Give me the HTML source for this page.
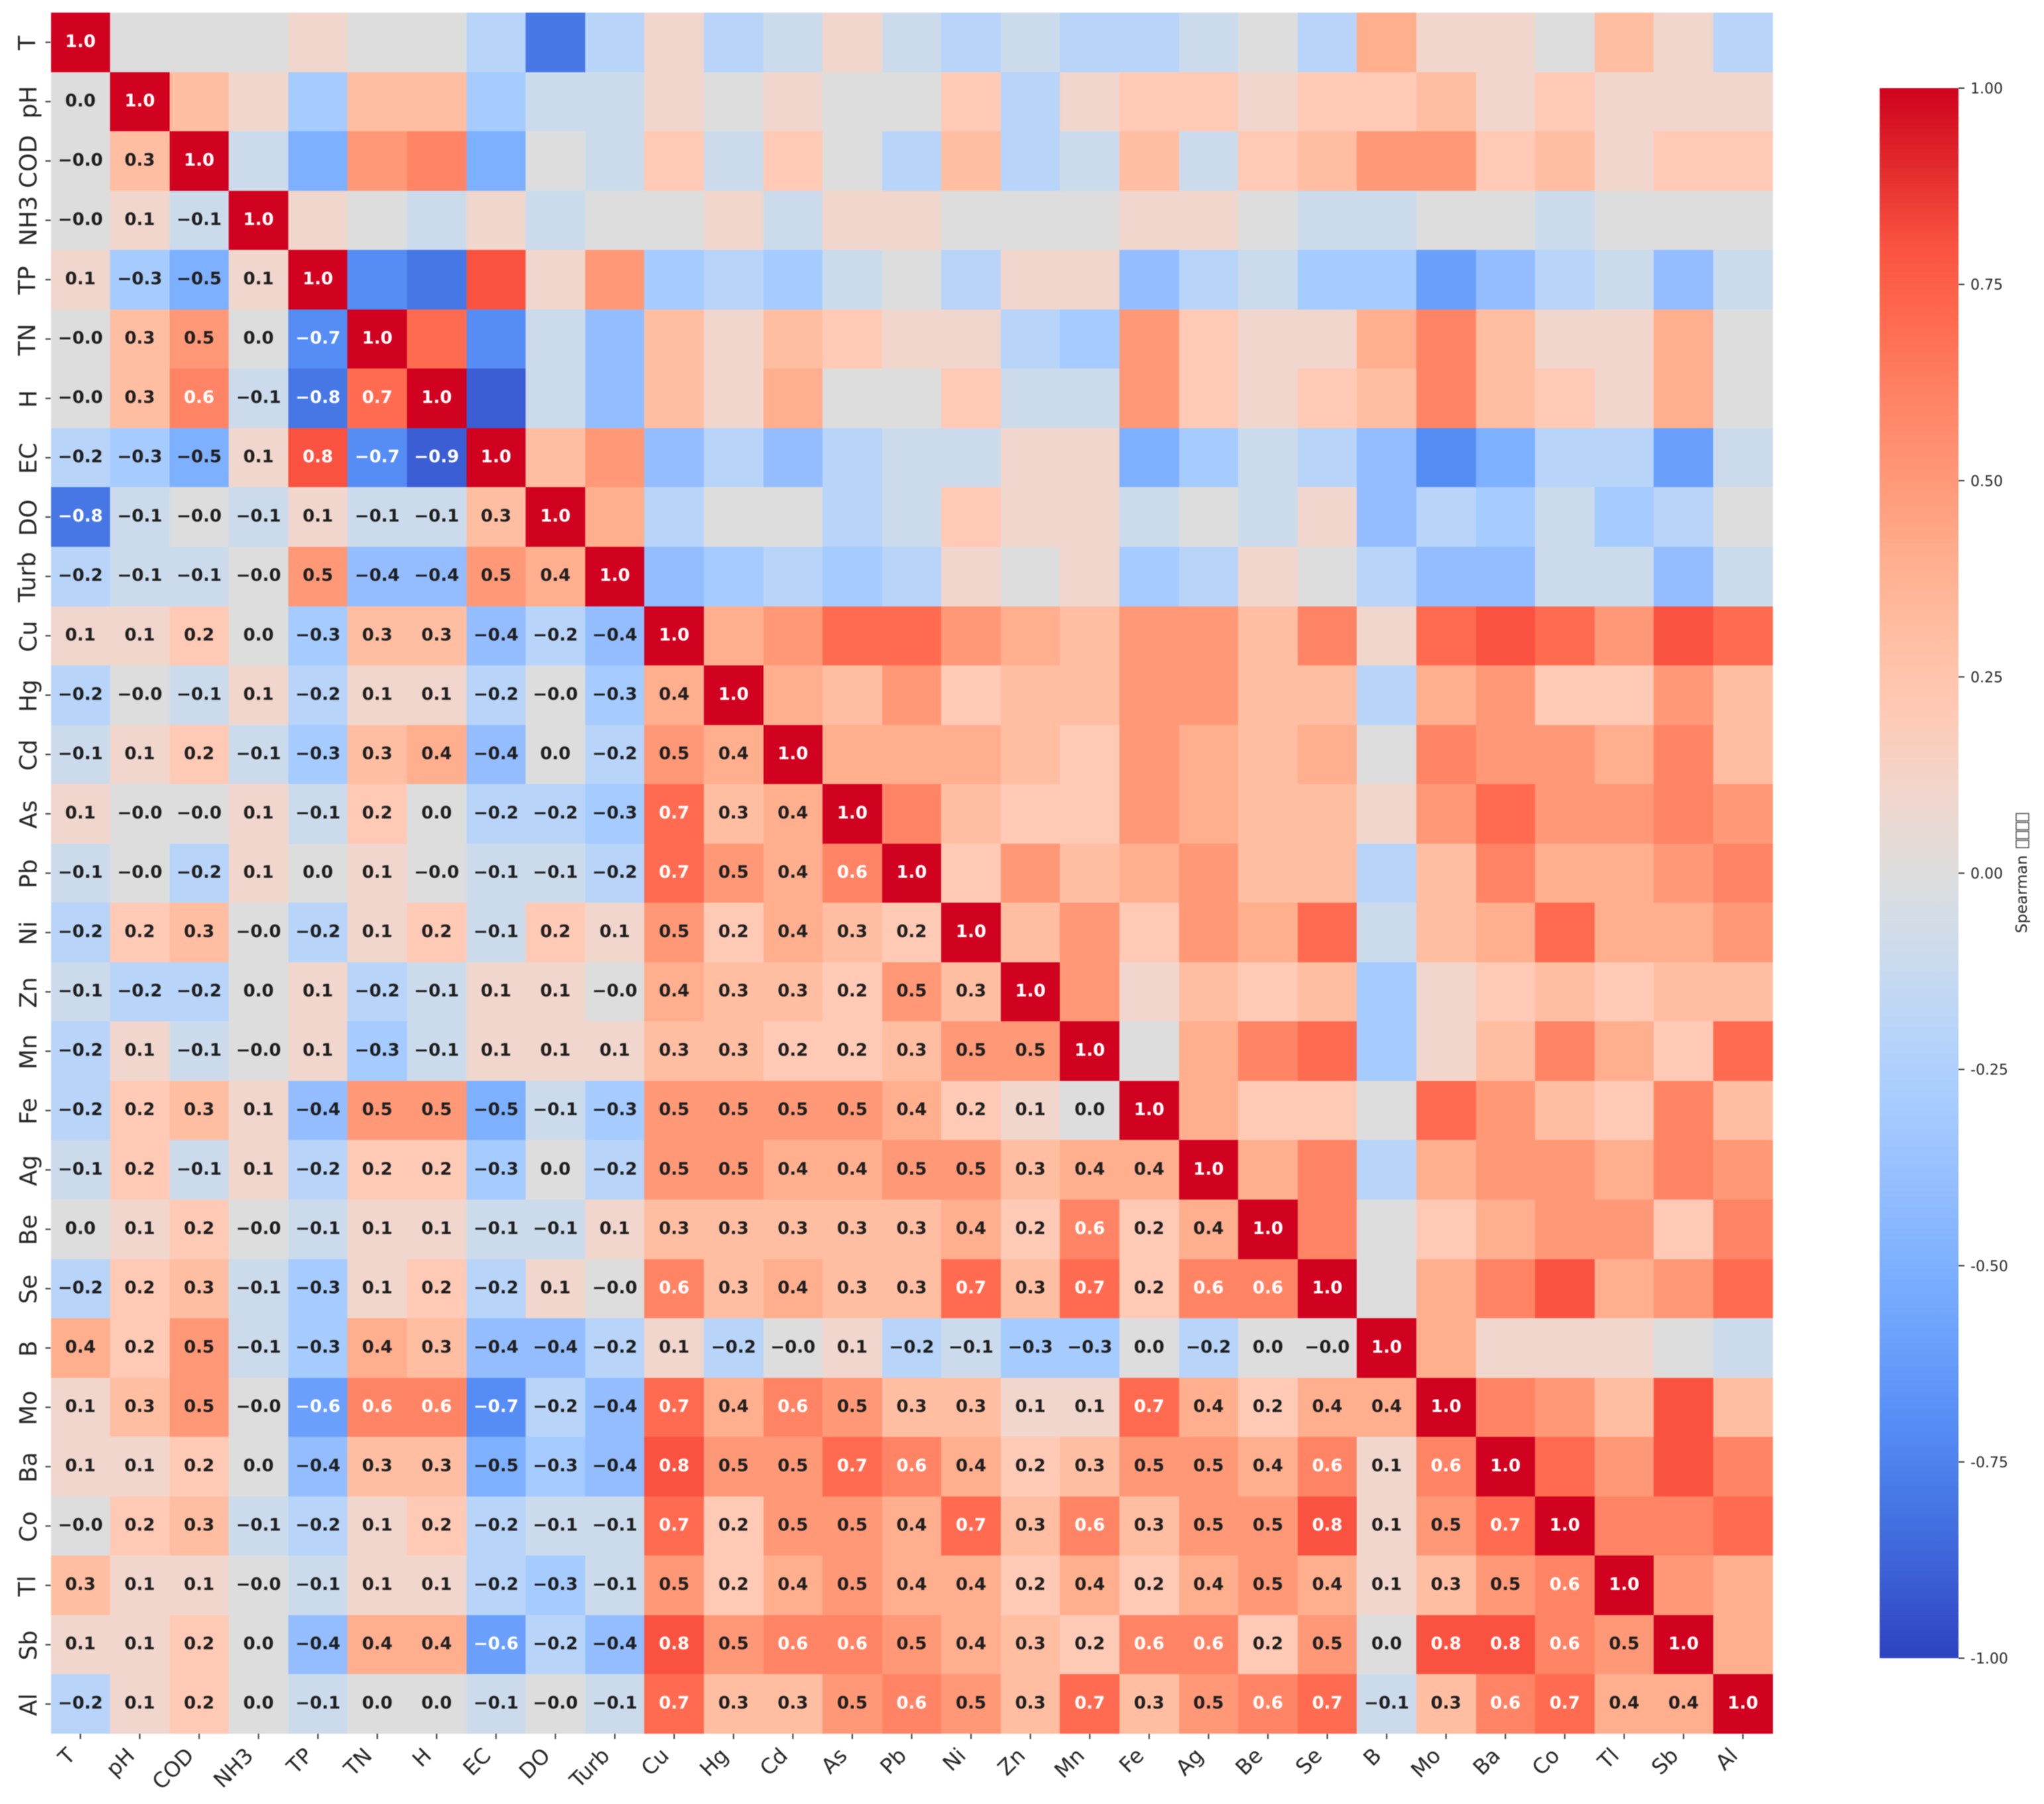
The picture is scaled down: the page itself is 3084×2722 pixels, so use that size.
<!DOCTYPE html>
<html lang="en">
<head>
<meta charset="utf-8">
<title>Spearman correlation heatmap</title>
<style>
html,body{margin:0;padding:0;background:#fff;}
svg{display:block;}
text{font-family:"DejaVu Sans","Liberation Sans",sans-serif;}
.cell-value{font-size:26px;font-weight:700;text-anchor:middle;}
.y-label{font-size:35.5px;fill:#262626;}
.x-label{font-size:32px;fill:#262626;}
.cbar-label{font-size:22px;fill:#262626;}
.soft{filter:blur(0.7px);}
</style>
</head>
<body>
<svg id="chart" xmlns="http://www.w3.org/2000/svg" width="3084" height="2722" viewBox="0 0 3084 2722">
  <rect x="0" y="0" width="3084" height="2722" fill="#ffffff"/>
  <g id="cells" class="soft" shape-rendering="crispEdges"></g>
  <g id="annotations" class="soft"></g>
  <g id="yaxis" class="soft"></g>
  <g id="xaxis" class="soft"></g>
  <g id="colorbar" class="soft"></g>
  <g id="colorbar-axis" class="soft"></g>
  <g class="soft">
    <text class="cbar-label" transform="translate(3058,1408) rotate(-90)" style="font-size:23px">Spearman</text>
    <rect x="3042" y="1268" width="19" height="11" fill="none" stroke="#555" stroke-width="1.6"/>
    <rect x="3042" y="1254.5" width="19" height="11" fill="none" stroke="#555" stroke-width="1.6"/>
    <rect x="3042" y="1241" width="19" height="11" fill="none" stroke="#555" stroke-width="1.6"/>
    <rect x="3042" y="1227.5" width="19" height="11" fill="none" stroke="#555" stroke-width="1.6"/>
  </g>
</svg>
<script>
const variables = ["T","pH","COD","NH3","TP","TN","H","EC","DO","Turb","Cu","Hg","Cd","As","Pb","Ni","Zn","Mn","Fe","Ag","Be","Se","B","Mo","Ba","Co","Tl","Sb","Al"];

const lowerTriangle = [
[1.0],
[0.0,1.0],
[-0.0,0.3,1.0],
[-0.0,0.1,-0.1,1.0],
[0.1,-0.3,-0.5,0.1,1.0],
[-0.0,0.3,0.5,0.0,-0.7,1.0],
[-0.0,0.3,0.6,-0.1,-0.8,0.7,1.0],
[-0.2,-0.3,-0.5,0.1,0.8,-0.7,-0.9,1.0],
[-0.8,-0.1,-0.0,-0.1,0.1,-0.1,-0.1,0.3,1.0],
[-0.2,-0.1,-0.1,-0.0,0.5,-0.4,-0.4,0.5,0.4,1.0],
[0.1,0.1,0.2,0.0,-0.3,0.3,0.3,-0.4,-0.2,-0.4,1.0],
[-0.2,-0.0,-0.1,0.1,-0.2,0.1,0.1,-0.2,-0.0,-0.3,0.4,1.0],
[-0.1,0.1,0.2,-0.1,-0.3,0.3,0.4,-0.4,0.0,-0.2,0.5,0.4,1.0],
[0.1,-0.0,-0.0,0.1,-0.1,0.2,0.0,-0.2,-0.2,-0.3,0.7,0.3,0.4,1.0],
[-0.1,-0.0,-0.2,0.1,0.0,0.1,-0.0,-0.1,-0.1,-0.2,0.7,0.5,0.4,0.6,1.0],
[-0.2,0.2,0.3,-0.0,-0.2,0.1,0.2,-0.1,0.2,0.1,0.5,0.2,0.4,0.3,0.2,1.0],
[-0.1,-0.2,-0.2,0.0,0.1,-0.2,-0.1,0.1,0.1,-0.0,0.4,0.3,0.3,0.2,0.5,0.3,1.0],
[-0.2,0.1,-0.1,-0.0,0.1,-0.3,-0.1,0.1,0.1,0.1,0.3,0.3,0.2,0.2,0.3,0.5,0.5,1.0],
[-0.2,0.2,0.3,0.1,-0.4,0.5,0.5,-0.5,-0.1,-0.3,0.5,0.5,0.5,0.5,0.4,0.2,0.1,0.0,1.0],
[-0.1,0.2,-0.1,0.1,-0.2,0.2,0.2,-0.3,0.0,-0.2,0.5,0.5,0.4,0.4,0.5,0.5,0.3,0.4,0.4,1.0],
[0.0,0.1,0.2,-0.0,-0.1,0.1,0.1,-0.1,-0.1,0.1,0.3,0.3,0.3,0.3,0.3,0.4,0.2,0.6,0.2,0.4,1.0],
[-0.2,0.2,0.3,-0.1,-0.3,0.1,0.2,-0.2,0.1,-0.0,0.6,0.3,0.4,0.3,0.3,0.7,0.3,0.7,0.2,0.6,0.6,1.0],
[0.4,0.2,0.5,-0.1,-0.3,0.4,0.3,-0.4,-0.4,-0.2,0.1,-0.2,-0.0,0.1,-0.2,-0.1,-0.3,-0.3,0.0,-0.2,0.0,-0.0,1.0],
[0.1,0.3,0.5,-0.0,-0.6,0.6,0.6,-0.7,-0.2,-0.4,0.7,0.4,0.6,0.5,0.3,0.3,0.1,0.1,0.7,0.4,0.2,0.4,0.4,1.0],
[0.1,0.1,0.2,0.0,-0.4,0.3,0.3,-0.5,-0.3,-0.4,0.8,0.5,0.5,0.7,0.6,0.4,0.2,0.3,0.5,0.5,0.4,0.6,0.1,0.6,1.0],
[-0.0,0.2,0.3,-0.1,-0.2,0.1,0.2,-0.2,-0.1,-0.1,0.7,0.2,0.5,0.5,0.4,0.7,0.3,0.6,0.3,0.5,0.5,0.8,0.1,0.5,0.7,1.0],
[0.3,0.1,0.1,-0.0,-0.1,0.1,0.1,-0.2,-0.3,-0.1,0.5,0.2,0.4,0.5,0.4,0.4,0.2,0.4,0.2,0.4,0.5,0.4,0.1,0.3,0.5,0.6,1.0],
[0.1,0.1,0.2,0.0,-0.4,0.4,0.4,-0.6,-0.2,-0.4,0.8,0.5,0.6,0.6,0.5,0.4,0.3,0.2,0.6,0.6,0.2,0.5,0.0,0.8,0.8,0.6,0.5,1.0],
[-0.2,0.1,0.2,0.0,-0.1,0.0,0.0,-0.1,-0.0,-0.1,0.7,0.3,0.3,0.5,0.6,0.5,0.3,0.7,0.3,0.5,0.6,0.7,-0.1,0.3,0.6,0.7,0.4,0.4,1.0]
];

const colorbarTicks = [1.0,0.75,0.5,0.25,0.0,-0.25,-0.5,-0.75,-1.0];

const paletteSteps = ["#2c42bf","#3b5ed4","#4677e4","#568df5","#6aa0fb","#7db0ff","#93bdff","#a5cbff","#b8d4f8","#ccdbec","#dddddd","#f0d6cc","#fecab6","#ffbea2","#ffae8e","#ff9877","#ff8466","#ff6b50","#fa5240","#e22a2c","#d0021f"];

const SVGNS = "http://www.w3.org/2000/svg";
const plot = {left:76.5, right:2674.5, top:19, bottom:2616};
const bar = {left:2836, right:2955, top:133, bottom:2502};

function xScale(i){ return plot.left + i * (plot.right - plot.left) / variables.length; }
function yScale(i){ return plot.top + i * (plot.bottom - plot.top) / variables.length; }
function barScale(v){ return bar.top + (1 - v) / 2 * (bar.bottom - bar.top); }

function hexToRgb(h){ return [parseInt(h.slice(1,3),16),parseInt(h.slice(3,5),16),parseInt(h.slice(5,7),16)]; }
function colorScale(v){
  const t = Math.max(0, Math.min(1, (v + 1) / 2)) * (paletteSteps.length - 1);
  const i = Math.min(paletteSteps.length - 2, Math.floor(t));
  const a = hexToRgb(paletteSteps[i]);
  const b = hexToRgb(paletteSteps[i + 1]);
  const f = t - i;
  return "rgb(" + a.map((c, k) => Math.round(c + (b[k] - c) * f)).join(",") + ")";
}
function formatCell(v){
  const neg = v < 0 || Object.is(v, -0);
  return (neg ? "\u2212" : "") + Math.abs(v).toFixed(1);
}
function make(tag, parent, attrs){
  const el = document.createElementNS(SVGNS, tag);
  for (const k in attrs) el.setAttribute(k, attrs[k]);
  parent.appendChild(el);
  return el;
}

const cellsG = document.getElementById("cells");
const annG = document.getElementById("annotations");
const n = variables.length;
for (let r = 0; r < n; r++) {
  for (let c = 0; c < n; c++) {
    const v = r >= c ? lowerTriangle[r][c] : lowerTriangle[c][r];
    const x0 = Math.round(xScale(c)), x1 = Math.round(xScale(c + 1));
    const y0 = Math.round(yScale(r)), y1 = Math.round(yScale(r + 1));
    const cell = make("rect", cellsG, {x:x0, y:y0, width:x1 - x0, height:y1 - y0, fill:colorScale(v)});
    
    
    if (r >= c) {
      const t = make("text", annG, {x:(xScale(c) + xScale(c + 1)) / 2, y:(yScale(r) + yScale(r + 1)) / 2 + 7, class:"cell-value", fill:Math.abs(v) >= 0.55 ? "#ffffff" : "#1f1f1f"});
      
      
      t.textContent = formatCell(v);
    }
  }
}

const yG = document.getElementById("yaxis");
const xG = document.getElementById("xaxis");
variables.forEach((name, i) => {
  const yc = (yScale(i) + yScale(i + 1)) / 2;
  const yTick = make("line", yG, {x1:plot.left - 8, x2:plot.left, y1:yc, y2:yc, stroke:"#444444", "stroke-width":2.2});
  
  
  const baselineX = name[0] === "T" ? 53 : 55;
  const yLabel = make("text", yG, {class:"y-label", "text-anchor":"middle", transform:"translate(" + baselineX + "," + (yc + 1) + ") rotate(-90)"});
  
  
  yLabel.textContent = name;

  const xc = (xScale(i) + xScale(i + 1)) / 2;
  const xTick = make("line", xG, {x1:xc, x2:xc, y1:plot.bottom, y2:plot.bottom + 8, stroke:"#444444", "stroke-width":2.2});
  
  
  const xLabel = make("text", xG, {class:"x-label", "text-anchor":"end", transform:"translate(" + (xc - 6) + "," + (plot.bottom + 35) + ") rotate(-45)"});
  
  
  xLabel.textContent = name;
});

const cbG = document.getElementById("colorbar");
const defs = make("defs", cbG, {});
const grad = make("linearGradient", defs, {id:"cbar-gradient", x1:0, y1:1, x2:0, y2:0});
paletteSteps.forEach((col, i) => {
  make("stop", grad, {offset:i / (paletteSteps.length - 1), "stop-color":col});
});
const barRect = make("rect", cbG, {x:bar.left, y:bar.top, width:bar.right - bar.left, height:bar.bottom - bar.top, fill:"url(#cbar-gradient)"});



const cbAxis = document.getElementById("colorbar-axis");
colorbarTicks.forEach(v => {
  const y = barScale(v);
  const tick = make("line", cbAxis, {x1:bar.right, x2:bar.right + 9, y1:y, y2:y, stroke:"#333333", "stroke-width":2});
  
  
  const label = make("text", cbAxis, {x:bar.right + 18, y:y + 8, class:"cbar-label"});
  
  
  label.textContent = v.toFixed(2);
});
</script>
</body>
</html>
